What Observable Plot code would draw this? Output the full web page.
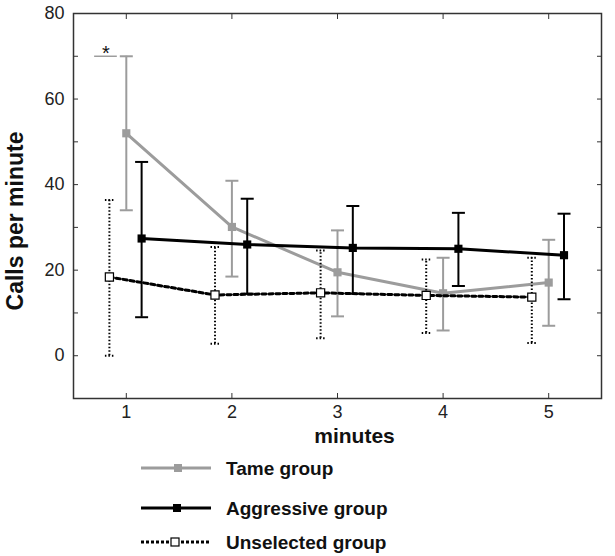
<!DOCTYPE html>
<html>
<head>
<meta charset="utf-8">
<script src="https://cdn.jsdelivr.net/npm/d3@7"></script>
<script src="https://cdn.jsdelivr.net/npm/@observablehq/plot@0.6"></script>
<style>
  html, body { margin: 0; padding: 0; background: #fff; }
  #chart { width: 615px; font-family: "Liberation Sans", Arial, sans-serif; }
  svg { display: block; }
</style>
</head>
<body>
<div id="chart"></div>
<script>
// ---- data ----
const minutes = [1, 2, 3, 4, 5];
const groups = ["Tame group", "Aggressive group", "Unselected group"];
const tameMean = [52.0, 30.1, 19.5, 14.6, 17.1];
const tameLow  = [34.0, 18.5,  9.2,  5.9,  7.0];
const tameHigh = [70.0, 40.9, 29.3, 22.9, 27.1];
const aggrMean = [27.4, 26.0, 25.2, 25.0, 23.5];
const aggrLow  = [ 9.0, 14.5, 14.5, 16.3, 13.2];
const aggrHigh = [45.3, 36.7, 35.0, 33.4, 33.2];
const unselMean = [18.4, 14.2, 14.7, 14.1, 13.7];
const unselLow  = [ 0.0,  2.8,  4.1,  5.3,  3.0];
const unselHigh = [36.4, 25.4, 24.6, 22.5, 22.9];
const xTicks = [1, 2, 3, 4, 5];
const yTicks = [0, 10, 20, 30, 40, 50, 60, 70, 80];
const yLabels = [0, 20, 40, 60, 80];
const sigMark = [{label: "*", minuteFrom: 0.70, minuteTo: 0.915, value: 70}];

// ---- build table ----
const series = {
  "Tame group": [tameMean, tameLow, tameHigh],
  "Aggressive group": [aggrMean, aggrLow, aggrHigh],
  "Unselected group": [unselMean, unselLow, unselHigh]
};
const offsets = {"Tame group": 0, "Aggressive group": 0.145, "Unselected group": -0.16};
const rows = groups.flatMap(g => minutes.map((m, i) => ({
  group: g, minute: m, mean: series[g][0][i], low: series[g][1][i], high: series[g][2][i]
})));
const of = g => rows.filter(d => d.group === g);
const X = d => d.minute + offsets[d.group];

const GRAY = "#9c9c9c";
const capSymbol = {draw(ctx, size) { const r = Math.sqrt(size / Math.PI); ctx.moveTo(-r, 0); ctx.lineTo(r, 0); }};

const tame = of("Tame group"), aggr = of("Aggressive group"), unsel = of("Unselected group");
const T = 5; // inward tick length

const plot = Plot.plot({
  width: 615,
  height: 450,
  marginTop: 13,
  marginLeft: 73,
  marginRight: 14,
  marginBottom: 52,
  style: {fontFamily: "Liberation Sans, Arial, sans-serif", fontSize: "18px", color: "#222", background: "#fff"},
  x: {domain: [0.5, 5.5]},
  y: {domain: [-10, 80]},
  marks: [
    Plot.frame({stroke: "#333", strokeWidth: 1.5}),
    // inward ticks
    Plot.axisX({anchor: "bottom", ticks: xTicks, tickSize: T, dy: -T, tickFormat: () => "", label: null, stroke: "#333"}),
    Plot.axisX({anchor: "top", ticks: xTicks, tickSize: T, dy: T, tickFormat: () => "", label: null, stroke: "#333"}),
    Plot.axisY({anchor: "left", ticks: yTicks, tickSize: T, dx: T, tickFormat: () => "", label: null, stroke: "#333"}),
    Plot.axisY({anchor: "right", ticks: yTicks, tickSize: T, dx: -T, tickFormat: () => "", label: null, stroke: "#333"}),
    // labels
    Plot.axisX({anchor: "bottom", ticks: xTicks, tickSize: 0, tickPadding: 7, tickFormat: d3.format("d"), label: null, fontSize: 18, fill: "#222"}),
    Plot.axisY({anchor: "left", ticks: yLabels, tickSize: 0, tickPadding: 9, tickFormat: d3.format("d"), label: null, fontSize: 18, fill: "#222"}),
    Plot.text(["minutes"], {frameAnchor: "bottom", lineAnchor: "middle", dx: 17, dy: 38, fontSize: 21, fontWeight: "bold", fill: "#111"}),
    Plot.text(["Calls per minute"], {frameAnchor: "left", textAnchor: "middle", rotate: -90, dx: -58, dy: 15, fontSize: 23, fontWeight: "bold", fill: "#111"}),
    // significance marker
    Plot.ruleY(sigMark, {y: "value", x1: "minuteFrom", x2: "minuteTo", stroke: GRAY, strokeWidth: 1.5}),
    Plot.text(sigMark, {x: d => (d.minuteFrom + d.minuteTo) / 2, y: "value", text: "label", dy: 4, lineAnchor: "bottom", fontSize: 20, fill: "#111"}),
    // Tame
    Plot.ruleX(tame, {x: X, y1: "low", y2: "high", stroke: GRAY, strokeWidth: 2}),
    Plot.dot(tame, {x: X, y: "low", symbol: capSymbol, r: 6.5, stroke: GRAY, strokeWidth: 2}),
    Plot.dot(tame, {x: X, y: "high", symbol: capSymbol, r: 6.5, stroke: GRAY, strokeWidth: 2}),
    Plot.line(tame, {x: X, y: "mean", stroke: GRAY, strokeWidth: 3}),
    Plot.dot(tame, {x: X, y: "mean", symbol: "square", r: 4.6, fill: GRAY, stroke: "none"}),
    // Aggressive
    Plot.ruleX(aggr, {x: X, y1: "low", y2: "high", stroke: "#000", strokeWidth: 2}),
    Plot.dot(aggr, {x: X, y: "low", symbol: capSymbol, r: 6.5, stroke: "#000", strokeWidth: 2}),
    Plot.dot(aggr, {x: X, y: "high", symbol: capSymbol, r: 6.5, stroke: "#000", strokeWidth: 2}),
    Plot.line(aggr, {x: X, y: "mean", stroke: "#000", strokeWidth: 3}),
    Plot.dot(aggr, {x: X, y: "mean", symbol: "square", r: 4.6, fill: "#000", stroke: "none"}),
    // Unselected
    Plot.ruleX(unsel, {x: X, y1: "low", y2: "high", stroke: "#000", strokeWidth: 2, strokeDasharray: "1.5,2"}),
    Plot.dot(unsel, {x: X, y: "low", symbol: capSymbol, r: 4.5, stroke: "#000", strokeWidth: 2, strokeDasharray: "1.5,2"}),
    Plot.dot(unsel, {x: X, y: "high", symbol: capSymbol, r: 4.5, stroke: "#000", strokeWidth: 2, strokeDasharray: "1.5,2"}),
    Plot.line(unsel, {x: X, y: "mean", stroke: "#000", strokeWidth: 3, strokeDasharray: "4,3"}),
    Plot.dot(unsel, {x: X, y: "mean", symbol: "square", r: 4.6, fill: "#fff", stroke: "#000", strokeWidth: 1.2})
  ]
});
document.getElementById("chart").appendChild(plot);

// ---- legend ----
const legendStyles = {
  "Tame group": {stroke: GRAY, dash: null, fill: GRAY, mk: "none", cx: 178},
  "Aggressive group": {stroke: "#000", dash: null, fill: "#000", mk: "none", cx: 177},
  "Unselected group": {stroke: "#000", dash: "3,2", fill: "#fff", mk: "#000", cx: 175}
};
const rowY = [18, 58, 92];
const lg = d3.create("svg").attr("width", 615).attr("height", 106);
groups.forEach((g, i) => {
  const s = legendStyles[g];
  const y = rowY[i];
  lg.append("line").attr("x1", 141).attr("x2", 211).attr("y1", y).attr("y2", y)
    .attr("stroke", s.stroke).attr("stroke-width", 3).attr("stroke-dasharray", s.dash);
  lg.append("rect").attr("x", s.cx - 4).attr("y", y - 4).attr("width", 8).attr("height", 8)
    .attr("fill", s.fill).attr("stroke", s.mk).attr("stroke-width", 1.2);
  lg.append("text").attr("x", 226).attr("y", y).attr("dy", "0.35em")
    .attr("font-family", "Liberation Sans, Arial, sans-serif").attr("font-size", 19)
    .attr("font-weight", "bold").attr("fill", "#111").text(g);
});
document.getElementById("chart").appendChild(lg.node());
</script>
</body>
</html>
